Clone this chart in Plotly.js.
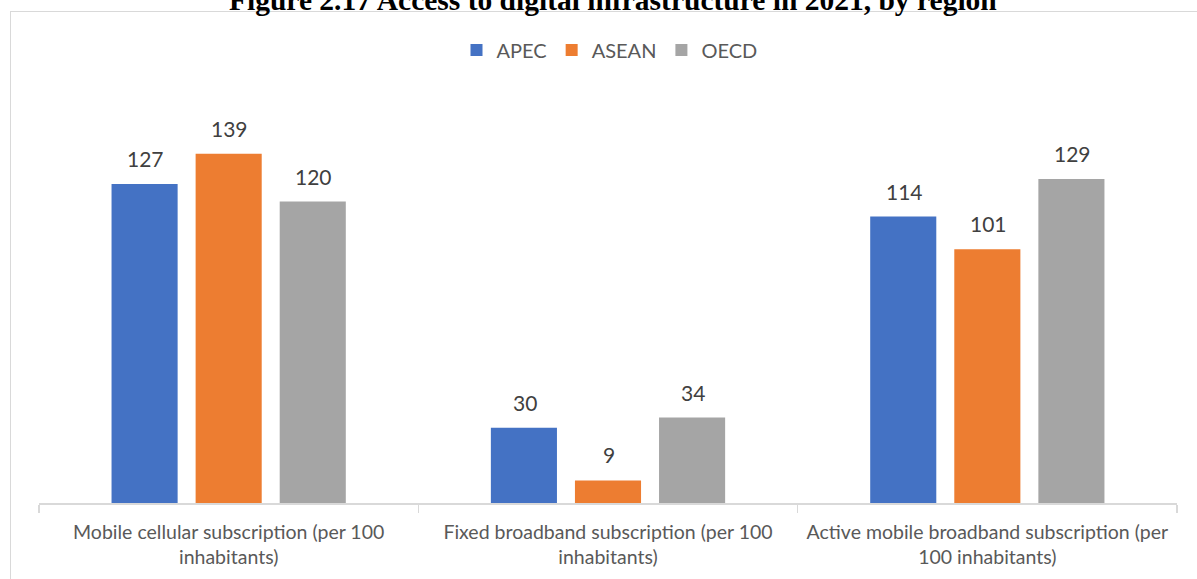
<!DOCTYPE html>
<html>
<head>
<meta charset="utf-8">
<script src="https://cdn.plot.ly/plotly-3.0.1.min.js"></script>
<style>
html,body{margin:0;padding:0;background:#fff;overflow:hidden;}
#frame{position:absolute;left:10px;top:11px;width:1200px;height:600px;border:1.5px solid #d9d9d9;box-sizing:border-box;}
#chart{position:absolute;left:0;top:0;width:1197px;height:579px;}
</style>
</head>
<body>
<div id="frame"></div>
<div id="chart"></div>
<script>
const categories = [
  "Mobile cellular subscription (per 100<br>inhabitants)",
  "Fixed broadband subscription (per 100<br>inhabitants)",
  "Active mobile broadband subscription (per<br>100 inhabitants)"
];
const seriesNames = ["APEC", "ASEAN", "OECD"];
const apec = [127, 30, 114];
const asean = [139, 9, 101];
const oecd = [120, 34, 129];
const colors = ["#4472c4", "#ed7d31", "#a5a5a5"];

const FONT = "Lato, 'Open Sans', sans-serif";
const W = 1197, H = 579;
const M = {l: 39, r: 20, t: 101, b: 76};
const BARGAP = 0.335, BARGROUPGAP = 0.214;
const seriesValues = [apec, asean, oecd];

const traces = seriesValues.map((vals, i) => ({
  type: "bar",
  name: seriesNames[i],
  x: categories,
  y: vals,
  marker: {color: colors[i]},
  hoverinfo: "none"
}));

// value labels placed above each bar (offset per series follows the bar slots)
const catPx = (W - M.l - M.r) / categories.length;
const slotPx = catPx * (1 - BARGAP) / seriesNames.length;
const annotations = [];
seriesValues.forEach((vals, i) => {
  vals.forEach((v, j) => {
    annotations.push({
      x: categories[j], y: v, xref: "x", yref: "y",
      text: String(v), showarrow: false,
      xanchor: "center", yanchor: "bottom",
      xshift: (i - (seriesNames.length - 1) / 2) * slotPx + 1,
      yshift: 11,
      font: {family: FONT, size: 21, color: "#404040"}
    });
  });
});

const layout = {
  width: W, height: H,
  paper_bgcolor: "rgba(0,0,0,0)",
  plot_bgcolor: "rgba(0,0,0,0)",
  margin: M,
  title: {
    text: "Figure 2.17 Access to digital infrastructure in 2021, by region",
    font: {family: "'Liberation Serif', 'Times New Roman', serif", size: 29.5, color: "#000", weight: "bold"},
    x: 0.512, xanchor: "center",
    y: 1.0, yanchor: "middle", yref: "container"
  },
  barmode: "group",
  bargap: BARGAP,
  bargroupgap: BARGROUPGAP,
  showlegend: true,
  legend: {
    orientation: "h", x: 0.5 + 11 / W, xanchor: "center", xref: "container",
    y: 1 - 50 / H, yanchor: "middle", yref: "container",
    font: {family: FONT, size: 20, color: "#595959"},
    itemwidth: 30, traceorder: "normal"
  },
  annotations: annotations,
  xaxis: {
    type: "category",
    showline: true, linecolor: "#d9d9d9", linewidth: 1.5,
    ticks: "outside", tickson: "boundaries", ticklen: 8, tickcolor: "#d9d9d9", tickwidth: 1.5,
    tickfont: {family: FONT, size: 19.5, color: "#595959"},
    ticklabelstandoff: 11,
    showgrid: false, zeroline: false, fixedrange: true
  },
  yaxis: {
    range: [0, 160], visible: false, showgrid: false, zeroline: false, fixedrange: true
  }
};

Plotly.newPlot("chart", traces, layout, {displayModeBar: false, staticPlot: true});
</script>
</body>
</html>
